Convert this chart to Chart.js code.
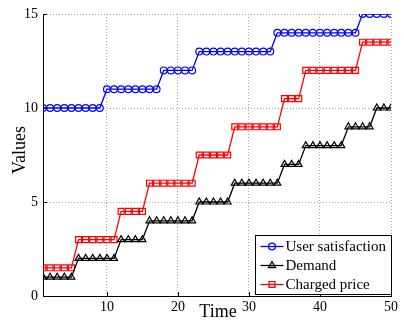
<!DOCTYPE html>
<html><head><meta charset="utf-8">
<script src="https://cdn.jsdelivr.net/npm/chart.js@4/dist/chart.umd.min.js"></script>
<style>html,body{margin:0;padding:0;background:#fff;}canvas{display:block;}</style>
</head><body>
<canvas id="c" width="404" height="322"></canvas>
<script>
const times = [1,2,3,4,5,6,7,8,9,10,11,12,13,14,15,16,17,18,19,20,21,22,23,24,25,26,27,28,29,30,31,32,33,34,35,36,37,38,39,40,41,42,43,44,45,46,47,48,49,50];
const satisfaction = [10,10,10,10,10,10,10,10,10, 11,11,11,11,11,11,11,11, 12,12,12,12,12, 13,13,13,13,13,13,13,13,13,13,13, 14,14,14,14,14,14,14,14,14,14,14,14, 15,15,15,15,15];
const demand = [1,1,1,1,1, 2,2,2,2,2,2, 3,3,3,3, 4,4,4,4,4,4,4, 5,5,5,5,5, 6,6,6,6,6,6,6, 7,7,7, 8,8,8,8,8,8, 9,9,9,9, 10,10,10];
const price = [1.5,1.5,1.5,1.5,1.5, 3,3,3,3,3,3, 4.5,4.5,4.5,4.5, 6,6,6,6,6,6,6, 7.5,7.5,7.5,7.5,7.5, 9,9,9,9,9,9,9, 10.5,10.5,10.5, 12,12,12,12,12,12,12,12, 13.5,13.5,13.5,13.5,13.5];
const seriesNames = ['User satisfaction', 'Demand', 'Charged price'];
const xTicks = [10, 20, 30, 40, 50];
const yTicks = [0, 5, 10, 15];
const xTitle = 'Time';
const yTitle = 'Values';

const SERIF = "'Liberation Serif', serif";
const pts = arr => times.map((t, i) => ({x: t, y: arr[i]}));

function mkSet(label, arr, color, style, radius) {
  return {
    label, data: pts(arr), borderColor: color, borderWidth: 1.3,
    pointStyle: style, pointRadius: radius, pointHoverRadius: radius,
    pointBorderColor: color, pointBackgroundColor: 'rgba(0,0,0,0)',
    pointBorderWidth: 1.2, tension: 0, fill: false
  };
}

const extras = {
  id: 'extras',
  afterDraw(chart) {
    const ctx = chart.ctx, ca = chart.chartArea;
    const xs = chart.scales.x, ys = chart.scales.y;
    ctx.save();
    // inward ticks
    ctx.strokeStyle = '#000'; ctx.lineWidth = 1;
    ctx.beginPath();
    yTicks.forEach(v => { const p = Math.round(ys.getPixelForValue(v)) + 0.5; ctx.moveTo(ca.left, p); ctx.lineTo(ca.left + 4, p); });
    xTicks.forEach(v => { const p = Math.round(xs.getPixelForValue(v)) + 0.5; ctx.moveTo(p, ca.bottom); ctx.lineTo(p, ca.bottom - 4); });
    ctx.stroke();
    // axis titles
    ctx.fillStyle = '#000';
    ctx.font = '18px ' + SERIF;
    ctx.textAlign = 'center'; ctx.textBaseline = 'middle';
    ctx.fillText(xTitle, 218, 312);
    ctx.translate(20, 150); ctx.rotate(-Math.PI / 2);
    ctx.fillText(yTitle, 0, 0);
    ctx.restore();
    // legend
    ctx.save();
    const bw = 136, bh = 59;
    const bx = Math.round(ca.right - bw) + 0.5, by = Math.round(ca.bottom - 2 - bh) + 0.5;
    ctx.fillStyle = '#fff'; ctx.fillRect(bx, by, bw, bh);
    ctx.strokeStyle = '#000'; ctx.lineWidth = 1; ctx.strokeRect(bx, by, bw, bh);
    ctx.textAlign = 'left'; ctx.textBaseline = 'middle';
    chart.data.datasets.forEach((ds, i) => {
      const cy = by + 11 + i * 19;
      ctx.strokeStyle = ds.borderColor; ctx.lineWidth = 1.3;
      ctx.beginPath(); ctx.moveTo(bx + 5, cy); ctx.lineTo(bx + 28, cy); ctx.stroke();
      ctx.fillStyle = 'rgba(0,0,0,0)';
      Chart.helpers.drawPoint(ctx, {pointStyle: ds.pointStyle, radius: ds.pointRadius, borderWidth: 1.2, rotation: 0}, bx + 16.5, cy);
      ctx.fillStyle = '#000';
      ctx.font = '15px ' + SERIF;
      ctx.fillText(ds.label, bx + 30, cy + 1);
    });
    ctx.restore();
  }
};

new Chart(document.getElementById('c'), {
  type: 'line',
  data: {
    datasets: [
      mkSet(seriesNames[0], satisfaction, '#0000ff', 'circle', 3.4),
      mkSet(seriesNames[1], demand, '#000000', 'triangle', 4),
      mkSet(seriesNames[2], price, '#ff0000', 'rect', 4.2)
    ]
  },
  options: {
    responsive: false, animation: false,
    layout: {padding: {left: 0, right: 13, top: 14, bottom: 0}},
    plugins: {legend: {display: false}, tooltip: {enabled: false}},
    scales: {
      x: {
        type: 'linear', min: 1, max: 50,
        afterBuildTicks: s => { s.ticks = xTicks.map(v => ({value: v})); },
        afterFit: s => { s.height = 26; },
        grid: {color: '#a8a8a8', lineWidth: 1, drawTicks: false},
        border: {display: true, color: '#000', width: 1, dash: [1, 2]},
        ticks: {color: '#000', font: {family: SERIF, size: 14}, padding: 3, maxRotation: 0}
      },
      y: {
        type: 'linear', min: 0, max: 15,
        afterBuildTicks: s => { s.ticks = yTicks.map(v => ({value: v})); },
        afterFit: s => { s.width = 43; },
        grid: {color: (c) => c.tick && c.tick.value === 0 ? 'rgba(0,0,0,0)' : '#a8a8a8', lineWidth: 1, drawTicks: false},
        border: {display: true, color: '#000', width: 1, dash: [1, 2]},
        ticks: {color: '#000', font: {family: SERIF, size: 14}, padding: 5}
      }
    }
  },
  plugins: [extras]
});
</script>
</body></html>
